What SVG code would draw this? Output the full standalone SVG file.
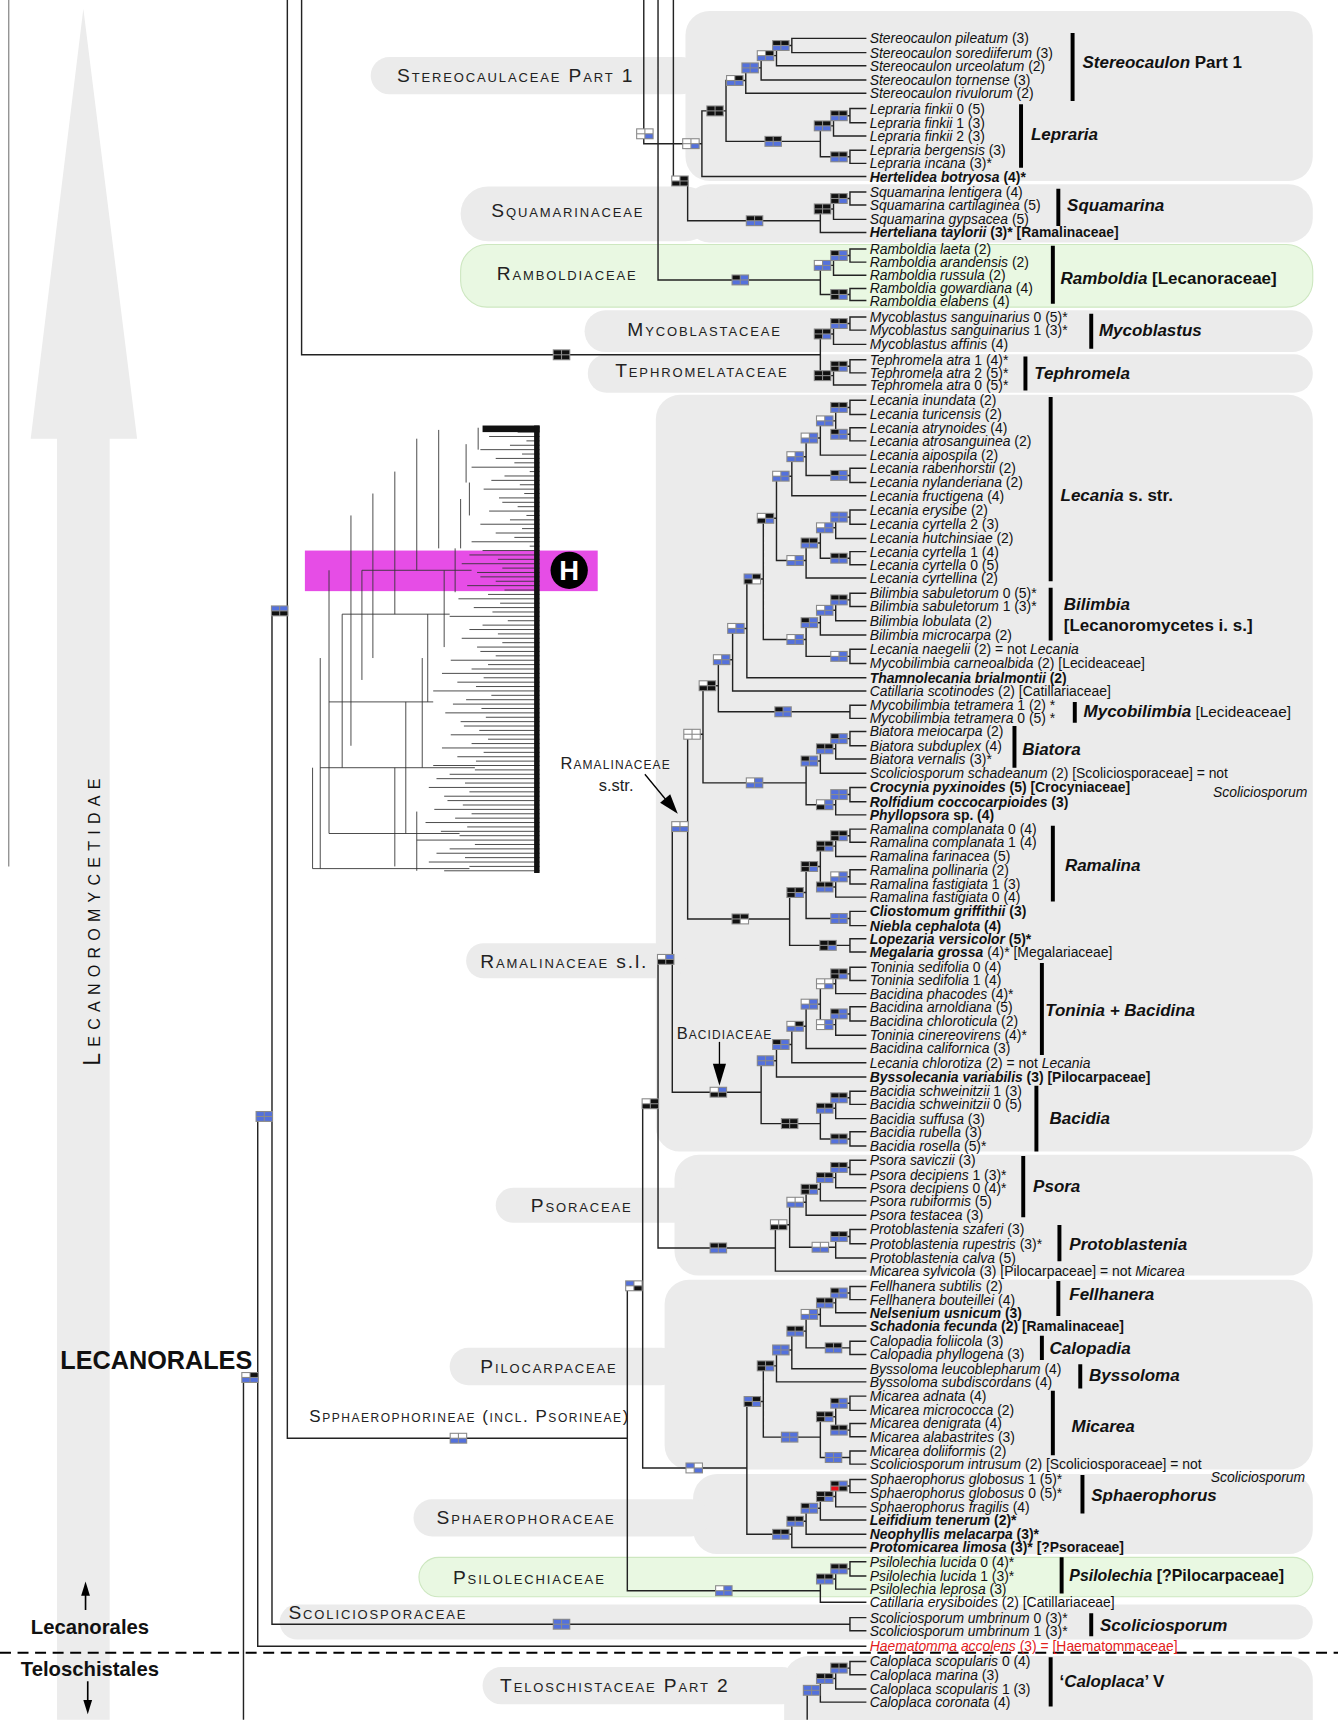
<svg xmlns="http://www.w3.org/2000/svg" xmlns:xlink="http://www.w3.org/1999/xlink" width="1338" height="1720" viewBox="0 0 1338 1720">
<style>
.t{font-family:"Liberation Sans",Arial,sans-serif;font-size:12.7px;fill:#111}
.i{font-style:italic}
.b{font-weight:bold}
.cl{font-family:"Liberation Sans",Arial,sans-serif;font-size:15.5px;font-weight:bold;fill:#111}
.fam{font-family:"Liberation Sans",Arial,sans-serif;font-size:17.5px;font-variant:small-caps;letter-spacing:1.7px;fill:#222}
.sm{font-family:"Liberation Sans",Arial,sans-serif;font-size:15px;letter-spacing:1px;fill:#222}
.bg{fill:#ebebeb}
.gr{fill:#e9f8e2;stroke:#cde7c0;stroke-width:1}
.ln{fill:none;stroke:#222;stroke-width:1.3}
.bar{fill:none;stroke:#000;stroke-width:3.6}
.k{fill:#111}.u{fill:#5471dc}.w{fill:#fff}.r{fill:#e8101a}
.th{fill:none;stroke:#333;stroke-width:0.8}
</style>
<defs>
<rect id="fr" width="16" height="10" fill="#8a8a8a"/>
<rect id="c1" x="1" y="1" width="6.5" height="3.5"/><rect id="c2" x="8.5" y="1" width="6.5" height="3.5"/>
<rect id="c3" x="1" y="5.5" width="6.5" height="3.5"/><rect id="c4" x="8.5" y="5.5" width="6.5" height="3.5"/>
<g id="KKBB"><use href="#fr"/><use href="#c1" class="k"/><use href="#c2" class="k"/><use href="#c3" class="u"/><use href="#c4" class="u"/></g>
<g id="WKBB"><use href="#fr"/><use href="#c1" class="w"/><use href="#c2" class="k"/><use href="#c3" class="u"/><use href="#c4" class="u"/></g>
<g id="BBBB"><use href="#fr"/><use href="#c1" class="u"/><use href="#c2" class="u"/><use href="#c3" class="u"/><use href="#c4" class="u"/></g>
<g id="KKKK"><use href="#fr"/><use href="#c1" class="k"/><use href="#c2" class="k"/><use href="#c3" class="k"/><use href="#c4" class="k"/></g>
<g id="WWWB"><use href="#fr"/><use href="#c1" class="w"/><use href="#c2" class="w"/><use href="#c3" class="w"/><use href="#c4" class="u"/></g>
<g id="KKKB"><use href="#fr"/><use href="#c1" class="k"/><use href="#c2" class="k"/><use href="#c3" class="k"/><use href="#c4" class="u"/></g>
<g id="WKKK"><use href="#fr"/><use href="#c1" class="w"/><use href="#c2" class="k"/><use href="#c3" class="k"/><use href="#c4" class="k"/></g>
<g id="KBBB"><use href="#fr"/><use href="#c1" class="k"/><use href="#c2" class="u"/><use href="#c3" class="u"/><use href="#c4" class="u"/></g>
<g id="WBBB"><use href="#fr"/><use href="#c1" class="w"/><use href="#c2" class="u"/><use href="#c3" class="u"/><use href="#c4" class="u"/></g>
<g id="WKKB"><use href="#fr"/><use href="#c1" class="w"/><use href="#c2" class="k"/><use href="#c3" class="k"/><use href="#c4" class="u"/></g>
<g id="BKKW"><use href="#fr"/><use href="#c1" class="u"/><use href="#c2" class="k"/><use href="#c3" class="k"/><use href="#c4" class="w"/></g>
<g id="WBKB"><use href="#fr"/><use href="#c1" class="w"/><use href="#c2" class="u"/><use href="#c3" class="k"/><use href="#c4" class="u"/></g>
<g id="WWWW"><use href="#fr"/><use href="#c1" class="w"/><use href="#c2" class="w"/><use href="#c3" class="w"/><use href="#c4" class="w"/></g>
<g id="WWBB"><use href="#fr"/><use href="#c1" class="w"/><use href="#c2" class="w"/><use href="#c3" class="u"/><use href="#c4" class="u"/></g>
<g id="KKKW"><use href="#fr"/><use href="#c1" class="k"/><use href="#c2" class="k"/><use href="#c3" class="k"/><use href="#c4" class="w"/></g>
<g id="WBKK"><use href="#fr"/><use href="#c1" class="w"/><use href="#c2" class="u"/><use href="#c3" class="k"/><use href="#c4" class="k"/></g>
<g id="WBWB"><use href="#fr"/><use href="#c1" class="w"/><use href="#c2" class="u"/><use href="#c3" class="w"/><use href="#c4" class="u"/></g>
<g id="WWKK"><use href="#fr"/><use href="#c1" class="w"/><use href="#c2" class="w"/><use href="#c3" class="k"/><use href="#c4" class="k"/></g>
<g id="BKKB"><use href="#fr"/><use href="#c1" class="u"/><use href="#c2" class="k"/><use href="#c3" class="k"/><use href="#c4" class="u"/></g>
<g id="KBRK"><use href="#fr"/><use href="#c1" class="k"/><use href="#c2" class="u"/><use href="#c3" class="r"/><use href="#c4" class="k"/></g>
<g id="BWWB"><use href="#fr"/><use href="#c1" class="u"/><use href="#c2" class="w"/><use href="#c3" class="w"/><use href="#c4" class="u"/></g>
<g id="BWWK"><use href="#fr"/><use href="#c1" class="u"/><use href="#c2" class="w"/><use href="#c3" class="w"/><use href="#c4" class="k"/></g>
<g id="BBKK"><use href="#fr"/><use href="#c1" class="u"/><use href="#c2" class="u"/><use href="#c3" class="k"/><use href="#c4" class="k"/></g>
</defs>
<rect width="1338" height="1720" fill="#fff"/>
<g transform="scale(1.09672)">

<g id="left-axis">
<line x1="8" y1="0" x2="8" y2="790" stroke="#777" stroke-width="1"/>
<polygon points="76,8 125,400 100,400 100,1568 52,1568 52,400 28,400" fill="#ececec"/>
<text transform="translate(91,838) rotate(-90)" text-anchor="middle" style="font-family:'Liberation Sans',Arial,sans-serif;font-size:21px;font-variant:small-caps;letter-spacing:5.7px;fill:#111">Lecanoromycetidae</text>
<text x="55" y="1248" style="font-family:'Liberation Sans',Arial,sans-serif;font-size:23px;font-weight:bold;fill:#111">LECANORALES</text>
<line x1="78" y1="1468" x2="78" y2="1452" stroke="#000" stroke-width="1.5"/>
<polygon points="78,1442 74,1455 82,1455" fill="#000"/>
<text x="82" y="1490" text-anchor="middle" style="font-family:'Liberation Sans',Arial,sans-serif;font-size:18.5px;font-weight:bold;fill:#111">Lecanorales</text>
<line x1="0" y1="1507" x2="1220" y2="1507" stroke="#000" stroke-width="2" stroke-dasharray="10,6"/>
<text x="82" y="1528" text-anchor="middle" style="font-family:'Liberation Sans',Arial,sans-serif;font-size:18.5px;font-weight:bold;fill:#111">Teloschistales</text>
<line x1="80" y1="1533" x2="80" y2="1552" stroke="#000" stroke-width="1.5"/>
<polygon points="80,1563 76,1550 84,1550" fill="#000"/>
</g>

<g id="clade-backgrounds">
<rect class="bg" x="625" y="10" width="572" height="155" rx="22"/>
<rect class="bg" x="338" y="52" width="300" height="34" rx="17"/>
<rect class="bg" x="625" y="168" width="572" height="53" rx="22"/>
<rect class="bg" x="420" y="170" width="230" height="50" rx="25"/>
<rect class="gr" x="420" y="223" width="777" height="57" rx="24"/>
<rect class="bg" x="533" y="283" width="664" height="38" rx="19"/>
<rect class="bg" x="536" y="323" width="661" height="35" rx="17"/>
<rect class="bg" x="598" y="360" width="599" height="690" rx="22"/>
<rect class="bg" x="425" y="860" width="200" height="32" rx="16"/>
<rect class="bg" x="615" y="1053" width="582" height="110" rx="22"/>
<rect class="bg" x="452" y="1083" width="180" height="32" rx="16"/>
<rect class="bg" x="606" y="1167" width="591" height="173" rx="22"/>
<rect class="bg" x="410" y="1229" width="210" height="34" rx="17"/>
<rect class="bg" x="632" y="1344" width="565" height="73" rx="22"/>
<rect class="bg" x="377" y="1367" width="270" height="34" rx="17"/>
<rect class="gr" x="382" y="1420" width="815" height="36" rx="18"/>
<rect class="bg" x="255" y="1463" width="942" height="32" rx="16"/>
<rect class="bg" x="715" y="1510" width="482" height="80" rx="22"/>
<rect class="bg" x="440" y="1520" width="290" height="34" rx="17"/>
</g>

<g id="family-labels">
<text class="fam" x="362" y="75">Stereocaulaceae Part 1</text>
<text class="fam" x="448" y="198">Squamarinaceae</text>
<text class="fam" x="453" y="255">Ramboldiaceae</text>
<text class="fam" x="572" y="306">Mycoblastaceae</text>
<text class="fam" x="561" y="344">Tephromelataceae</text>
<text class="fam" x="438" y="883">Ramalinaceae<tspan style="font-variant:normal"> s.l.</tspan></text>
<text class="fam" x="484" y="1105">Psoraceae</text>
<text class="fam" x="438" y="1252">Pilocarpaceae</text>
<text class="fam" x="398" y="1390">Sphaerophoraceae</text>
<text class="fam" x="413" y="1444">Psilolechiaceae</text>
<text class="fam" x="263" y="1476">Scoliciosporaceae</text>
<text class="fam" x="456" y="1543">Teloschistaceae Part 2</text>
<text class="fam" x="282" y="1297" style="font-size:15.5px;letter-spacing:1.4px">Spphaerophorineae (incl. Psorineae)</text>
<text class="sm" x="511" y="701" style="font-variant:small-caps">Ramalinaceae</text>
<text class="sm" x="546" y="721" style="letter-spacing:0">s.str.</text>
<line x1="588" y1="706" x2="607" y2="729" stroke="#000" stroke-width="1.2"/>
<polygon points="618,742 611.1,724.3 601.9,731.9" fill="#000"/>
<text class="sm" x="617" y="947" style="font-variant:small-caps">Bacidiaceae</text>
<line x1="656" y1="950" x2="656" y2="972" stroke="#000" stroke-width="1.2"/>
<polygon points="656,990 650,970 662,970" fill="#000"/>
</g>

<g id="overview-tree">
<rect x="278" y="502" width="267" height="37" fill="#e64de6"/>
<path class="th" d="M458 390H492M472 394H492M446 398H492M480 402H492M465 406H492M438 410H492M476 414H492M452 418H492M469 422H492M430 426H492M483 430H492M460 434H492M448 438H492M474 442H492M441 446H492M478 450H492M455 454H492M458 458H492M472 462H492M446 466H492M480 470H492M465 474H492M438 478H492M476 482H492M452 486H492M469 490H492M430 494H492M483 498H492M440 502H492M428 506H492M454 510H492M421 514H492M458 518H492M435 522H492M438 526H492M452 530H492M426 534H492M460 538H492M445 542H492M418 546H492M456 550H492M432 554H492M449 558H492M410 562H492M463 566H492M440 570H492M428 574H492M454 578H492M421 582H492M458 586H492M435 590H492M438 594H492M452 598H492M411 602H492M445 606H492M430 610H492M403 614H492M441 618H492M417 622H492M434 626H492M395 630H492M448 634H492M425 638H492M413 642H492M439 646H492M406 650H492M443 654H492M420 658H492M423 662H492M437 666H492M411 670H492M445 674H492M430 678H492M403 682H492M441 686H492M417 690H492M434 694H492M395 698H492M433 702H492M410 706H492M398 710H492M424 714H492M391 718H492M428 722H492M405 726H492M408 730H492M422 734H492M396 738H492M430 742H492M415 746H492M388 750H492M426 754H492M402 758H492M419 762H492M380 766H492M433 770H492M410 774H492M398 778H492M424 782H492M391 786H492M428 790H492M405 794H492"/>
<path class="th" d="M330 520H430M312 560H410M300 640H395M292 700H433M300 760H419M285 792H428M436 390V410M425 405V440M428 440V470M420 455V500M400 392V500M380 400V520M415 500V540M405 520V590M360 430V560M340 450V600M390 560V640M320 470V680M385 600V700M370 640V760M300 520V760M292 600V792M360 700V790M380 740V794M330 520V620M312 560V700M285 700V792"/>
<rect x="440" y="388" width="52" height="6" fill="#111"/>
<rect x="487" y="388" width="5" height="408" fill="#111"/>
<circle cx="519" cy="520" r="17" fill="#000"/>
<text x="519" y="529" text-anchor="middle" style="font-family:'Liberation Sans',Arial,sans-serif;font-size:25px;font-weight:bold;fill:#fff">H</text>
</g>

<g id="connectors">
<path class="ln" d="M790 35H722V48H790M722 41.5H708V60H790M708 50.75H694V73H790M694 61.9H680V85H790M790 99H775V112H790M775 105.5H760V124H790M790 137H775V149H790M760 114.75H748V143H775M680 73.4H662V128.9H748M662 101.1H640V161H790M587 0V131H640M790 175H775V187H790M775 181H760V200H790M760 190.5H748V212H790M614 0V165H627V201.25H748M790 227H775V239H790M775 233H760V251H790M790 263H775V274H790M760 242H748V268.5H775M600 0V255.25H748M790 289H775V301H790M775 295H760V314H790M790 328H775V340H790M775 334H760V351H790M760 304.5H748V342.5H760M275 0V323.5H748"/>
<path class="ln" d="M262 0V1311.4H572M248 557H262M248 557V1481H775M790 1475H775V1487H790M235 1018H248M235 1018V1501H790M222 1256H235M222 1256V1568"/>
<path class="ln" d="M790 365H775V378H790M790 390H775V402H790M775 371.5H762V396H775M762 383.75H748V415H790M790 427H775V440H790M748 399.4H735V433.5H775M735 416.4H722V452H790M790 465H775V478H790M775 471.5H762V491H790M790 503H775V515H790M762 481.25H748V509H775M748 495.1H735V527H790M722 434.2H708V511.1H735M790 541H775V553H790M775 547H762V566H790M762 556.5H748V579H790M790 592H775V605H790M748 567.75H735V598.5H775M708 472.6H696V583.1H735M696 527.9H681V618H790M681 573H668V630H790M790 643H775V655H790M668 601.5H655V649H775M790 667H775V680H790M775 673.5H762V692H790M762 682.75H748V705H790M790 718H775V731H790M775 724.5H762V743H790M748 693.9H735V733.75H762M655 625.25H641V713.8H735"/>
<path class="ln" d="M790 756H775V768H790M775 762H762V781H790M790 793H775V806H790M775 799.5H762V818H790M762 771.5H748V808.75H762M790 831H775V844H790M748 790.1H735V837.5H775M790 856H775V868H790M735 813.8H720V862H775M641 669.5H627V837.9H720M790 882H775V894H790M775 888H762V906H790M790 918H775V931H790M775 924.5H762V944H790M762 897H748V934.25H762M748 915.6H735V956H790M735 935.8H722V969H790M722 952.4H708V982H790M790 995H775V1007H790M775 1001H762V1020H790M790 1032H775V1045H790M762 1010.5H748V1038.5H775M708 967.2H694V1024.5H748M627 753.7H613V995.9H694"/>
<path class="ln" d="M790 1058H775V1071H790M775 1064.5H762V1083H790M762 1073.75H748V1095H790M748 1084.4H735V1108H790M790 1121H775V1134H790M775 1127.5H762V1147H790M735 1096.2H720V1137.25H762M720 1116.7H707V1159H790M613 874.8H600V1137.9H707M790 1173H775V1185H790M775 1179H762V1197H790M762 1188H748V1209H790M790 1223H775V1235H790M748 1198.5H735V1229H775M735 1213.75H722V1248H790M722 1230.9H708V1260H790M790 1273H775V1286H790M790 1298H775V1310H790M775 1279.5H762V1304H775M790 1323H775V1335H790M762 1291.75H748V1329H775M708 1245.4H696V1310.4H748M790 1349H775V1361H790M775 1355H762V1374H790M762 1364.5H748V1386H790M748 1375.25H735V1399H790M735 1387.1H722V1411H790M696 1277.9H681V1399H722M600 1006.4H586V1338.5H681M790 1424H775V1437H790M775 1430.5H762V1449H790M762 1439.75H748V1461H790M586 1172.4H572V1450.4H748M790 1515H775V1527H790M775 1521H762V1540H790M762 1530.5H748V1552H790M748 1541.25H736V1568"/>
</g>

<g id="node-markers">
<use href="#KKBB" x="704" y="36.5"/><use href="#WKBB" x="690" y="45.75"/><use href="#BBBB" x="676" y="56.9"/><use href="#WKBB" x="662" y="68.4"/>
<use href="#KKKK" x="644" y="96.1"/><use href="#KKBB" x="697" y="123.9"/><use href="#KKBB" x="757" y="100.5"/><use href="#KKBB" x="742" y="109.75"/><use href="#KKBB" x="757" y="138"/>
<use href="#WWWB" x="622" y="126"/><use href="#WWWB" x="580" y="117"/>
<use href="#KKKB" x="757" y="176"/><use href="#KKKK" x="742" y="185.5"/><use href="#KKBB" x="680" y="196.25"/><use href="#WKKK" x="612" y="160"/>
<use href="#KBBB" x="757" y="228"/><use href="#WBBB" x="742" y="237"/><use href="#KKKB" x="757" y="263.5"/><use href="#KBBB" x="667" y="250.25"/>
<use href="#KKBB" x="757" y="290"/><use href="#KKKB" x="742" y="299.5"/><use href="#KKKB" x="757" y="329"/><use href="#KKKK" x="742" y="337.5"/><use href="#KKKK" x="504" y="318.5"/>
<use href="#KKBB" x="757" y="366.5"/><use href="#KBBB" x="757" y="391"/><use href="#WBBB" x="744" y="378.75"/><use href="#WBBB" x="730" y="394.4"/><use href="#KBBB" x="757" y="428.5"/><use href="#WBBB" x="717" y="411.4"/><use href="#WBBB" x="704" y="429.2"/>
<use href="#BBBB" x="757" y="466.5"/><use href="#WBBB" x="744" y="476.25"/><use href="#KKBB" x="757" y="504"/><use href="#KKBB" x="730" y="490.1"/><use href="#WBBB" x="717" y="506.1"/><use href="#WKKB" x="690" y="467.6"/>
<use href="#KKBB" x="757" y="542"/><use href="#WBBB" x="744" y="551.5"/><use href="#KBBB" x="730" y="562.75"/><use href="#WBBB" x="757" y="593.5"/><use href="#WBBB" x="717" y="578.1"/>
<use href="#BKKW" x="678" y="522.9"/><use href="#WBBB" x="663" y="568"/><use href="#WBBB" x="650" y="596.5"/><use href="#KBBB" x="706" y="644"/><use href="#WKKK" x="637" y="620.25"/>
<use href="#KBBB" x="757" y="668.5"/><use href="#KKBB" x="744" y="677.75"/><use href="#KBBB" x="730" y="688.9"/><use href="#BBBB" x="757" y="719.5"/><use href="#WBKB" x="744" y="728.75"/><use href="#WBBB" x="680" y="708.8"/><use href="#WWWW" x="623" y="664.5"/>
<use href="#KKKB" x="757" y="757"/><use href="#KKKB" x="744" y="766.5"/><use href="#WBBB" x="757" y="794.5"/><use href="#KKBB" x="744" y="803.75"/><use href="#KKKB" x="730" y="785.1"/><use href="#BBBB" x="757" y="832.5"/><use href="#KKKB" x="717" y="808.8"/><use href="#KKKB" x="747" y="857"/><use href="#KKKW" x="667" y="832.9"/><use href="#WWBB" x="612" y="748.7"/>
<use href="#KKKB" x="757" y="883"/><use href="#WWWB" x="744" y="892"/><use href="#KBBB" x="757" y="919.5"/><use href="#WBWB" x="744" y="929.25"/><use href="#WBBB" x="730" y="910.6"/><use href="#WKBB" x="717" y="930.8"/><use href="#KBBB" x="704" y="947.4"/><use href="#BBBB" x="690" y="962.2"/>
<use href="#KKBB" x="757" y="996"/><use href="#KKBB" x="744" y="1005.5"/><use href="#KKBB" x="757" y="1033.5"/><use href="#KKKK" x="712" y="1019.5"/><use href="#WBKK" x="647" y="990.9"/><use href="#WBKK" x="599" y="869.8"/>
<use href="#KKBB" x="757" y="1059.5"/><use href="#KKBB" x="744" y="1068.75"/><use href="#KKKB" x="730" y="1079.4"/><use href="#WWBB" x="717" y="1091.2"/><use href="#KKBB" x="757" y="1122.5"/><use href="#WWBB" x="740" y="1132.25"/><use href="#WWKK" x="702" y="1111.7"/><use href="#KKBB" x="647" y="1132.9"/><use href="#WKKK" x="585" y="1001.4"/>
<use href="#KBBB" x="757" y="1174"/><use href="#KKBB" x="744" y="1183"/><use href="#WBBB" x="730" y="1193.5"/><use href="#KKBB" x="752" y="1224"/><use href="#KKBB" x="717" y="1208.75"/><use href="#BBBB" x="704" y="1225.9"/><use href="#KKKB" x="690" y="1240.4"/>
<use href="#KBBB" x="757" y="1274.5"/><use href="#KKBB" x="757" y="1299"/><use href="#KKKB" x="744" y="1286.75"/><use href="#BBBB" x="752" y="1324"/><use href="#BBBB" x="712" y="1305.4"/><use href="#BKKB" x="678" y="1272.9"/>
<use href="#KBRK" x="757" y="1350"/><use href="#KKKB" x="744" y="1359.5"/><use href="#KBBB" x="730" y="1370.25"/><use href="#KKBB" x="717" y="1382.1"/><use href="#KKBB" x="704" y="1394"/><use href="#BWWB" x="625" y="1333.5"/><use href="#BWWK" x="570" y="1167.4"/>
<use href="#KKBB" x="757" y="1425.5"/><use href="#KKBB" x="744" y="1434.75"/><use href="#WBBB" x="652" y="1445.4"/><use href="#BBBB" x="504" y="1476"/>
<use href="#KKBB" x="757" y="1516"/><use href="#KKBB" x="744" y="1525.5"/><use href="#BBBB" x="732" y="1536.25"/>
<use href="#WWBB" x="410" y="1306.4"/><use href="#BBKK" x="247" y="552"/><use href="#BBBB" x="233" y="1013"/><use href="#WKBB" x="220" y="1251"/>
</g>

<g id="clade-bars">
<path class="bar" d="M978 30V92M931 95V153M965 172V206M960 224V277M995 286V318M935 325V356M958 362V530M958 536V584M980 640V659M925 662V700M960 753V822M950 878V962M945 990V1050M933 1054V1110M966 1117V1150M965 1168V1200M950 1218V1240M985 1244V1266M960 1268V1327M987 1345V1380M968 1420V1453M995 1471V1492M958 1511V1556"/>
<text class="cl" x="987" y="62"><tspan class="i">Stereocaulon</tspan> Part 1</text>
<text class="cl i" x="940" y="128">Lepraria</text>
<text class="cl i" x="973" y="192">Squamarina</text>
<text class="cl" x="967" y="259"><tspan class="i">Ramboldia</tspan> [Lecanoraceae]</text>
<text class="cl i" x="1002" y="306">Mycoblastus</text>
<text class="cl i" x="943" y="346">Tephromela</text>
<text class="cl" x="967" y="457"><tspan class="i">Lecania</tspan> s. str.</text>
<text class="cl i" x="970" y="556">Bilimbia</text>
<text class="cl" x="970" y="575">[Lecanoromycetes i. s.]</text>
<text class="cl" x="988" y="654"><tspan class="i">Mycobilimbia</tspan><tspan style="font-weight:normal;font-size:14px"> [Lecideaceae]</tspan></text>
<text class="cl i" x="932" y="688">Biatora</text>
<text class="cl i" x="971" y="794">Ramalina</text>
<text class="cl i" x="953" y="926">Toninia + Bacidina</text>
<text class="cl i" x="957" y="1025">Bacidia</text>
<text class="cl i" x="942" y="1087">Psora</text>
<text class="cl i" x="975" y="1140">Protoblastenia</text>
<text class="cl i" x="975" y="1185">Fellhanera</text>
<text class="cl i" x="957" y="1235">Calopadia</text>
<text class="cl i" x="993" y="1259">Byssoloma</text>
<text class="cl i" x="977" y="1306">Micarea</text>
<text class="cl i" x="995" y="1369">Sphaerophorus</text>
<text class="cl" x="975" y="1442" style="font-size:14.5px"><tspan class="i">Psilolechia</tspan> [?Pilocarpaceae]</text>
<text class="cl i" x="1003" y="1487">Scoliciosporum</text>
<text class="cl" x="966" y="1538">‘<tspan class="i">Caloplaca</tspan>’ V</text>
</g>

<g id="tips">
<text class="t" x="793" y="39.5"><tspan class="i">Stereocaulon pileatum</tspan> (3)</text>
<text class="t" x="793" y="52.5"><tspan class="i">Stereocaulon sorediiferum</tspan> (3)</text>
<text class="t" x="793" y="64.5"><tspan class="i">Stereocaulon urceolatum</tspan> (2)</text>
<text class="t" x="793" y="77.5"><tspan class="i">Stereocaulon tornense</tspan> (3)</text>
<text class="t" x="793" y="89.5"><tspan class="i">Stereocaulon rivulorum</tspan> (2)</text>
<text class="t" x="793" y="103.5"><tspan class="i">Lepraria finkii</tspan> 0 (5)</text>
<text class="t" x="793" y="116.5"><tspan class="i">Lepraria finkii</tspan> 1 (3)</text>
<text class="t" x="793" y="128.5"><tspan class="i">Lepraria finkii</tspan> 2 (3)</text>
<text class="t" x="793" y="141.5"><tspan class="i">Lepraria bergensis</tspan> (3)</text>
<text class="t" x="793" y="153.5"><tspan class="i">Lepraria incana</tspan> (3)*</text>
<text class="t b" x="793" y="165.5"><tspan class="i">Hertelidea botryosa</tspan> (4)*</text>
<text class="t" x="793" y="179.5"><tspan class="i">Squamarina lentigera</tspan> (4)</text>
<text class="t" x="793" y="191.5"><tspan class="i">Squamarina cartilaginea</tspan> (5)</text>
<text class="t" x="793" y="204.5"><tspan class="i">Squamarina gypsacea</tspan> (5)</text>
<text class="t b" x="793" y="216.5"><tspan class="i">Herteliana taylorii</tspan> (3)* [Ramalinaceae]</text>
<text class="t" x="793" y="231.5"><tspan class="i">Ramboldia laeta</tspan> (2)</text>
<text class="t" x="793" y="243.5"><tspan class="i">Ramboldia arandensis</tspan> (2)</text>
<text class="t" x="793" y="255.5"><tspan class="i">Ramboldia russula</tspan> (2)</text>
<text class="t" x="793" y="267.5"><tspan class="i">Ramboldia gowardiana</tspan> (4)</text>
<text class="t" x="793" y="279"><tspan class="i">Ramboldia elabens</tspan> (4)</text>
<text class="t" x="793" y="293.5"><tspan class="i">Mycoblastus sanguinarius</tspan> 0 (5)*</text>
<text class="t" x="793" y="305.5"><tspan class="i">Mycoblastus sanguinarius</tspan> 1 (3)*</text>
<text class="t" x="793" y="318.5"><tspan class="i">Mycoblastus affinis</tspan> (4)</text>
<text class="t" x="793" y="332.5"><tspan class="i">Tephromela atra</tspan> 1 (4)*</text>
<text class="t" x="793" y="344.5"><tspan class="i">Tephromela atra</tspan> 2 (5)*</text>
<text class="t" x="793" y="356"><tspan class="i">Tephromela atra</tspan> 0 (5)*</text>
<text class="t" x="793" y="369.5"><tspan class="i">Lecania inundata</tspan> (2)</text>
<text class="t" x="793" y="382.5"><tspan class="i">Lecania turicensis</tspan> (2)</text>
<text class="t" x="793" y="394.5"><tspan class="i">Lecania atrynoides</tspan> (4)</text>
<text class="t" x="793" y="406.5"><tspan class="i">Lecania atrosanguinea</tspan> (2)</text>
<text class="t" x="793" y="419.5"><tspan class="i">Lecania aipospila</tspan> (2)</text>
<text class="t" x="793" y="431.5"><tspan class="i">Lecania rabenhorstii</tspan> (2)</text>
<text class="t" x="793" y="444.5"><tspan class="i">Lecania nylanderiana</tspan> (2)</text>
<text class="t" x="793" y="456.5"><tspan class="i">Lecania fructigena</tspan> (4)</text>
<text class="t" x="793" y="469.5"><tspan class="i">Lecania erysibe</tspan> (2)</text>
<text class="t" x="793" y="482.5"><tspan class="i">Lecania cyrtella</tspan> 2 (3)</text>
<text class="t" x="793" y="495.5"><tspan class="i">Lecania hutchinsiae</tspan> (2)</text>
<text class="t" x="793" y="507.5"><tspan class="i">Lecania cyrtella</tspan> 1 (4)</text>
<text class="t" x="793" y="519.5"><tspan class="i">Lecania cyrtella</tspan> 0 (5)</text>
<text class="t" x="793" y="531.5"><tspan class="i">Lecania cyrtellina</tspan> (2)</text>
<text class="t" x="793" y="545.5"><tspan class="i">Bilimbia sabuletorum</tspan> 0 (5)*</text>
<text class="t" x="793" y="557.5"><tspan class="i">Bilimbia sabuletorum</tspan> 1 (3)*</text>
<text class="t" x="793" y="570.5"><tspan class="i">Bilimbia lobulata</tspan> (2)</text>
<text class="t" x="793" y="583.5"><tspan class="i">Bilimbia microcarpa</tspan> (2)</text>
<text class="t" x="793" y="596.5"><tspan class="i">Lecania naegelii</tspan> (2) = not <tspan class="i">Lecania</tspan></text>
<text class="t" x="793" y="609.5"><tspan class="i">Mycobilimbia carneoalbida</tspan> (2) [Lecideaceae]</text>
<text class="t b" x="793" y="622.5"><tspan class="i">Thamnolecania brialmontii</tspan> (2)</text>
<text class="t" x="793" y="634.5"><tspan class="i">Catillaria scotinodes</tspan> (2) [Catillariaceae]</text>
<text class="t" x="793" y="647.5"><tspan class="i">Mycobilimbia tetramera</tspan> 1 (2) *</text>
<text class="t" x="793" y="659.5"><tspan class="i">Mycobilimbia tetramera</tspan> 0 (5) *</text>
<text class="t" x="793" y="671.5"><tspan class="i">Biatora meiocarpa</tspan> (2)</text>
<text class="t" x="793" y="684.5"><tspan class="i">Biatora subduplex</tspan> (4)</text>
<text class="t" x="793" y="696.5"><tspan class="i">Biatora vernalis</tspan> (3)*</text>
<text class="t" x="793" y="709.5"><tspan class="i">Scoliciosporum schadeanum</tspan> (2) [Scoliciosporaceae] = not</text>
<text class="t i" x="1192" y="726.5" text-anchor="end">Scoliciosporum</text>
<text class="t b" x="793" y="722.5"><tspan class="i">Crocynia pyxinoides</tspan> (5) [Crocyniaceae]</text>
<text class="t b" x="793" y="735.5"><tspan class="i">Rolfidium coccocarpioides</tspan> (3)</text>
<text class="t b" x="793" y="747.5"><tspan class="i">Phyllopsora</tspan> sp. (4)</text>
<text class="t" x="793" y="760.5"><tspan class="i">Ramalina complanata</tspan> 0 (4)</text>
<text class="t" x="793" y="772.5"><tspan class="i">Ramalina complanata</tspan> 1 (4)</text>
<text class="t" x="793" y="785.5"><tspan class="i">Ramalina farinacea</tspan> (5)</text>
<text class="t" x="793" y="797.5"><tspan class="i">Ramalina pollinaria</tspan> (2)</text>
<text class="t" x="793" y="810.5"><tspan class="i">Ramalina fastigiata</tspan> 1 (3)</text>
<text class="t" x="793" y="822.5"><tspan class="i">Ramalina fastigiata</tspan> 0 (4)</text>
<text class="t b" x="793" y="835.5"><tspan class="i">Cliostomum griffithii</tspan> (3)</text>
<text class="t b" x="793" y="848.5"><tspan class="i">Niebla cephalota</tspan> (4)</text>
<text class="t b" x="793" y="860.5"><tspan class="i">Lopezaria versicolor</tspan> (5)*</text>
<text class="t" x="793" y="872.5"><tspan class="i b">Megalaria grossa</tspan> (4)* [Megalariaceae]</text>
<text class="t" x="793" y="886.5"><tspan class="i">Toninia sedifolia</tspan> 0 (4)</text>
<text class="t" x="793" y="898.5"><tspan class="i">Toninia sedifolia</tspan> 1 (4)</text>
<text class="t" x="793" y="910.5"><tspan class="i">Bacidina phacodes</tspan> (4)*</text>
<text class="t" x="793" y="922.5"><tspan class="i">Bacidina arnoldiana</tspan> (5)</text>
<text class="t" x="793" y="935.5"><tspan class="i">Bacidina chloroticula</tspan> (2)</text>
<text class="t" x="793" y="948.5"><tspan class="i">Toninia cinereovirens</tspan> (4)*</text>
<text class="t" x="793" y="960.5"><tspan class="i">Bacidina californica</tspan> (3)</text>
<text class="t" x="793" y="973.5"><tspan class="i">Lecania chlorotiza</tspan> (2) = not <tspan class="i">Lecania</tspan></text>
<text class="t b" x="793" y="986.5"><tspan class="i">Byssolecania variabilis</tspan> (3) [Pilocarpaceae]</text>
<text class="t" x="793" y="999.5"><tspan class="i">Bacidia schweinitzii</tspan> 1 (3)</text>
<text class="t" x="793" y="1011.5"><tspan class="i">Bacidia schweinitzii</tspan> 0 (5)</text>
<text class="t" x="793" y="1024.5"><tspan class="i">Bacidia suffusa</tspan> (3)</text>
<text class="t" x="793" y="1036.5"><tspan class="i">Bacidia rubella</tspan> (3)</text>
<text class="t" x="793" y="1049.5"><tspan class="i">Bacidia rosella</tspan> (5)*</text>
<text class="t" x="793" y="1062.5"><tspan class="i">Psora saviczii</tspan> (3)</text>
<text class="t" x="793" y="1075.5"><tspan class="i">Psora decipiens</tspan> 1 (3)*</text>
<text class="t" x="793" y="1087.5"><tspan class="i">Psora decipiens</tspan> 0 (4)*</text>
<text class="t" x="793" y="1099.5"><tspan class="i">Psora rubiformis</tspan> (5)</text>
<text class="t" x="793" y="1112.5"><tspan class="i">Psora testacea</tspan> (3)</text>
<text class="t" x="793" y="1125.5"><tspan class="i">Protoblastenia szaferi</tspan> (3)</text>
<text class="t" x="793" y="1138.5"><tspan class="i">Protoblastenia rupestris</tspan> (3)*</text>
<text class="t" x="793" y="1151.5"><tspan class="i">Protoblastenia calva</tspan> (5)</text>
<text class="t" x="793" y="1163.5"><tspan class="i">Micarea sylvicola</tspan> (3) [Pilocarpaceae] = not <tspan class="i">Micarea</tspan></text>
<text class="t" x="793" y="1177.5"><tspan class="i">Fellhanera subtilis</tspan> (2)</text>
<text class="t" x="793" y="1189.5"><tspan class="i">Fellhanera bouteillei</tspan> (4)</text>
<text class="t b" x="793" y="1201.5"><tspan class="i">Nelsenium usnicum</tspan> (3)</text>
<text class="t b" x="793" y="1213.5"><tspan class="i">Schadonia fecunda</tspan> (2) [Ramalinaceae]</text>
<text class="t" x="793" y="1227.5"><tspan class="i">Calopadia foliicola</tspan> (3)</text>
<text class="t" x="793" y="1239.5"><tspan class="i">Calopadia phyllogena</tspan> (3)</text>
<text class="t" x="793" y="1252.5"><tspan class="i">Byssoloma leucoblepharum</tspan> (4)</text>
<text class="t" x="793" y="1264.5"><tspan class="i">Byssoloma subdiscordans</tspan> (4)</text>
<text class="t" x="793" y="1277.5"><tspan class="i">Micarea adnata</tspan> (4)</text>
<text class="t" x="793" y="1290.5"><tspan class="i">Micarea micrococca</tspan> (2)</text>
<text class="t" x="793" y="1302.5"><tspan class="i">Micarea denigrata</tspan> (4)</text>
<text class="t" x="793" y="1314.5"><tspan class="i">Micarea alabastrites</tspan> (3)</text>
<text class="t" x="793" y="1327.5"><tspan class="i">Micarea doliiformis</tspan> (2)</text>
<text class="t" x="793" y="1339.5"><tspan class="i">Scoliciosporum intrusum</tspan> (2) [Scoliciosporaceae] = not</text>
<text class="t i" x="1190" y="1351.5" text-anchor="end">Scoliciosporum</text>
<text class="t" x="793" y="1353.5"><tspan class="i">Sphaerophorus globosus</tspan> 1 (5)*</text>
<text class="t" x="793" y="1365.5"><tspan class="i">Sphaerophorus globosus</tspan> 0 (5)*</text>
<text class="t" x="793" y="1378.5"><tspan class="i">Sphaerophorus fragilis</tspan> (4)</text>
<text class="t b" x="793" y="1390.5"><tspan class="i">Leifidium tenerum</tspan> (2)*</text>
<text class="t b" x="793" y="1403.5"><tspan class="i">Neophyllis melacarpa</tspan> (3)*</text>
<text class="t b" x="793" y="1415.5"><tspan class="i">Protomicarea limosa</tspan> (3)* [?Psoraceae]</text>
<text class="t" x="793" y="1428.5"><tspan class="i">Psilolechia lucida</tspan> 0 (4)*</text>
<text class="t" x="793" y="1441.5"><tspan class="i">Psilolechia lucida</tspan> 1 (3)*</text>
<text class="t" x="793" y="1453.5"><tspan class="i">Psilolechia leprosa</tspan> (3)</text>
<text class="t" x="793" y="1465.5"><tspan class="i">Catillaria erysiboides</tspan> (2) [Catillariaceae]</text>
<text class="t" x="793" y="1479.5"><tspan class="i">Scoliciosporum umbrinum</tspan> 0 (3)*</text>
<text class="t" x="793" y="1491.5"><tspan class="i">Scoliciosporum umbrinum</tspan> 1 (3)*</text>
<text class="t" x="793" y="1505.5" style="fill:#e3201b"><tspan class="i">Haematomma accolens</tspan> (3) = [Haematommaceae]</text>
<text class="t" x="793" y="1519.5"><tspan class="i">Caloplaca scopularis</tspan> 0 (4)</text>
<text class="t" x="793" y="1531.5"><tspan class="i">Caloplaca marina</tspan> (3)</text>
<text class="t" x="793" y="1544.5"><tspan class="i">Caloplaca scopularis</tspan> 1 (3)</text>
<text class="t" x="793" y="1556.5"><tspan class="i">Caloplaca coronata</tspan> (4)</text>
</g>
</g>
</svg>
